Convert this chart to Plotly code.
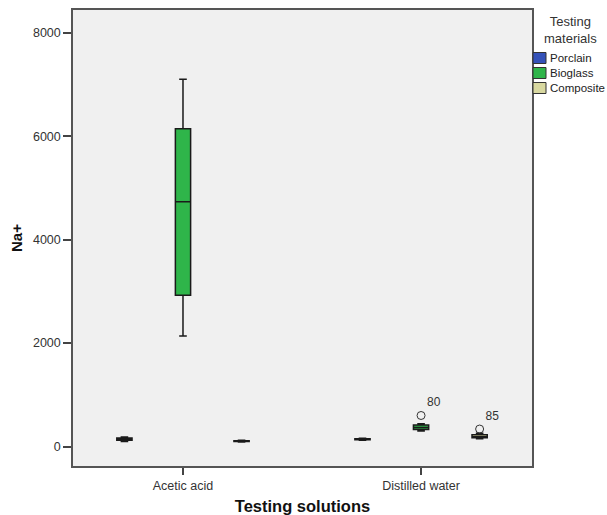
import plotly.graph_objects as go

# ---- data ----
solutions = ["Acetic acid", "Distilled water"]
materials = ["Porclain", "Bioglass", "Composite"]

# box statistics per material, per solution [Acetic acid, Distilled water]
lower = {"Porclain": [95, 120], "Bioglass": [2138, 300], "Composite": [88, 150]}
q1 = {"Porclain": [120, 132], "Bioglass": [2925, 330], "Composite": [96, 168]}
median = {"Porclain": [140, 140], "Bioglass": [4736, 368], "Composite": [104, 188]}
q3 = {"Porclain": [165, 148], "Bioglass": [6148, 415], "Composite": [112, 228]}
upper = {"Porclain": [185, 158], "Bioglass": [7104, 440], "Composite": [120, 258]}

# outliers: (material, solution index, value, case label)
out_material = ["Bioglass", "Composite"]
out_solution = [1, 1]
out_value = [600, 338]
out_label = ["80", "85"]

colors = {"Porclain": "#3451b8", "Bioglass": "#2fb54a", "Composite": "#d8d8a0"}
offsets = {"Porclain": -0.246, "Bioglass": 0.0, "Composite": 0.246}

# layout geometry (pixels)
W, H = 607, 515
ML, MR, MT, MB = 73, 75, 10, 49
PW = W - ML - MR
PH = H - MT - MB


def px_x(p):
    return (p - ML) / PW


def px_y(p):
    return 1 - (p - MT) / PH


FONT = "Liberation Sans, Arial, sans-serif"

fig = go.Figure()
for m in materials:
    xs = [i + offsets[m] for i in range(len(solutions))]
    fig.add_trace(go.Box(
        name=m,
        x=xs,
        q1=q1[m], median=median[m], q3=q3[m],
        lowerfence=lower[m], upperfence=upper[m],
        width=0.064,
        whiskerwidth=0.5,
        fillcolor=colors[m],
        line=dict(color="#1a1a1a", width=1.5),
        boxpoints=False,
        showlegend=False,
    ))

fig.add_trace(go.Scatter(
    x=[s + offsets[m] for m, s in zip(out_material, out_solution)],
    y=out_value,
    mode="markers+text",
    text=out_label,
    textposition="top right",
    textfont=dict(family=FONT, size=12, color="#333333"),
    marker=dict(symbol="circle-open", size=8, color="#333333", line=dict(width=1)),
    showlegend=False,
    hoverinfo="skip",
))

# legend (drawn as shapes + text in the right margin)
annotations = [dict(
    text="Testing<br>materials", xref="paper", yref="paper",
    x=px_x(570), y=px_y(30), xanchor="center", yanchor="middle",
    showarrow=False, align="center",
    font=dict(family=FONT, size=13, color="#333333"),
)]
shapes = []
for k, m in enumerate(materials):
    cy = 58 + 15 * k
    shapes.append(dict(
        type="rect", xref="paper", yref="paper",
        x0=px_x(533), x1=px_x(546), y0=px_y(cy - 5.5), y1=px_y(cy + 5.5),
        fillcolor=colors[m], line=dict(color="#333333", width=1),
    ))
    annotations.append(dict(
        text=m, xref="paper", yref="paper",
        x=px_x(548), y=px_y(cy), xanchor="left", yanchor="middle",
        showarrow=False, font=dict(family=FONT, size=11.5, color="#222222"),
    ))

fig.update_layout(
    width=W, height=H,
    margin=dict(l=ML, r=MR, t=MT, b=MB, autoexpand=False),
    paper_bgcolor="white",
    plot_bgcolor="#f0f0f0",
    font=dict(family=FONT, size=12, color="#333333"),
    showlegend=False,
    annotations=annotations,
    shapes=shapes,
    xaxis=dict(
        range=[-0.462, 1.466],
        tickmode="array",
        tickvals=list(range(len(solutions))),
        ticktext=solutions,
        ticks="outside", ticklen=7, tickcolor="#444444", tickwidth=1.5,
        tickfont=dict(size=12.5),
        ticklabelstandoff=0,
        showgrid=False, zeroline=False,
        showline=True, linecolor="#555555", linewidth=1.5, mirror=True,
        title=dict(text="<b>Testing solutions</b>",
                   font=dict(size=16.5, color="#111111"), standoff=12),
    ),
    yaxis=dict(
        range=[-377, 8444],
        tickvals=[0, 2000, 4000, 6000, 8000],
        ticks="outside", ticklen=8, tickcolor="#444444", tickwidth=1.5,
        tickfont=dict(size=12.5),
        showgrid=False, zeroline=False,
        showline=True, linecolor="#555555", linewidth=1.5, mirror=True,
        title=dict(text="<b>Na+</b>", font=dict(size=15, color="#111111"), standoff=7),
    ),
)

fig.write_html("out.html")
